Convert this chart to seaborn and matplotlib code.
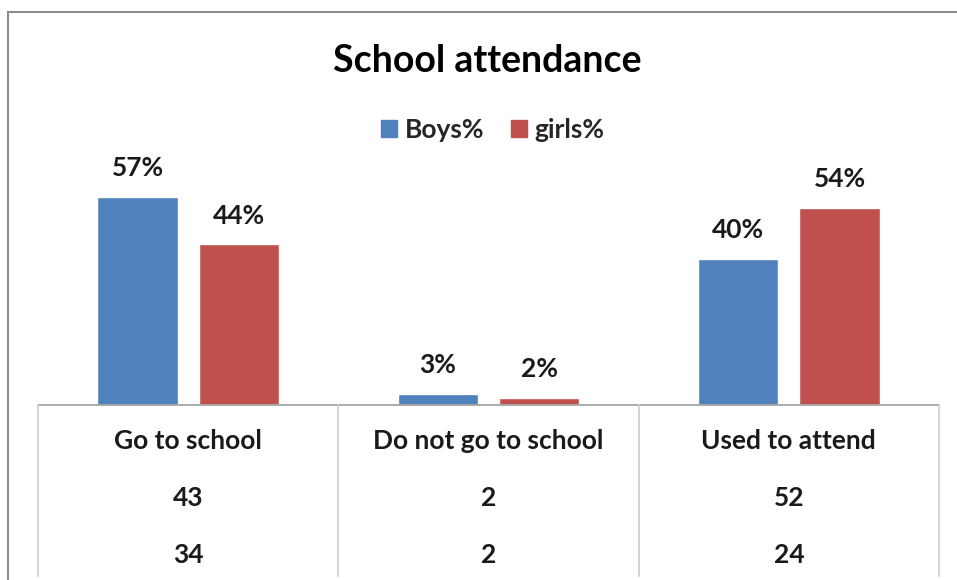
import pandas as pd
import matplotlib.pyplot as plt
import seaborn as sns
from matplotlib.patches import Rectangle
from matplotlib.lines import Line2D
import matplotlib.transforms as mtransforms

# 차트 데이터
categories = ["Go to school", "Do not go to school", "Used to attend"]
boys_pct = [57, 3, 40]
girls_pct = [44, 2, 54]
boys_count = [43, 2, 52]
girls_count = [34, 2, 24]
series_names = ["Boys%", "girls%"]

df = pd.DataFrame({
    "category": categories * 2,
    "value": boys_pct + girls_pct,
    "series": [series_names[0]] * 3 + [series_names[1]] * 3,
})

sns.set_style("white")
plt.rcParams['font.family'] = ['Lato', 'DejaVu Sans']

W, H = 957, 580
fig = plt.figure(figsize=(W / 100, H / 100), dpi=100)
ax = fig.add_axes([38 / W, 1 - 405 / H, (939 - 38) / W, (405 - 186) / H])

palette = {"Boys%": "#4F81BD", "girls%": "#C0504D"}
sns.barplot(data=df, x="category", y="value", hue="series", palette=palette,
            width=0.675, gap=0.21, ax=ax, legend=False, saturation=1)

for cont in ax.containers:
    ax.bar_label(cont, fmt="{:.0f}%", padding=12, fontsize=19,
                 fontweight="bold", color="#1a1a1a")

ax.set_xlim(-0.5, 2.5)
ax.set_ylim(0, 60)
ax.set_xlabel("")
ax.set_ylabel("")
ax.set_xticks([])
ax.set_yticks([])
for s in ax.spines.values():
    s.set_visible(False)

# 데이터 테이블 (축 아래)
trans = mtransforms.blended_transform_factory(ax.transData, fig.transFigure)
y0 = 1 - 405 / H
y_bot = 1 - 576 / H
ax.add_line(Line2D([-0.5, 2.5], [y0, y0], transform=trans, color="#a6a6a6",
                   lw=1.3, clip_on=False))
for xv in [-0.5, 0.5, 1.5, 2.5]:
    ax.add_line(Line2D([xv, xv], [y0, y_bot], transform=trans, color="#d0d0d0",
                       lw=1.3, clip_on=False))

row_y = [1 - 441 / H, 1 - 498 / H, 1 - 555 / H]
for i, cat in enumerate(categories):
    ax.text(i, row_y[0], cat, transform=trans, ha="center", va="center",
            fontsize=19, fontweight="bold", color="#1a1a1a", clip_on=False)
    ax.text(i, row_y[1], str(boys_count[i]), transform=trans, ha="center",
            va="center", fontsize=19, fontweight="bold", color="#1a1a1a", clip_on=False)
    ax.text(i, row_y[2], str(girls_count[i]), transform=trans, ha="center",
            va="center", fontsize=19, fontweight="bold", color="#1a1a1a", clip_on=False)

# 제목과 범례
fig.text(487 / W, 1 - 61 / H, "School attendance", ha="center", va="center",
         fontsize=27, fontweight="bold", color="#000000")
handles = [Rectangle((0, 0), 1, 1, color=palette[n]) for n in series_names]
leg = fig.legend(handles, series_names, loc="center", bbox_to_anchor=(493 / W, 1 - 130 / H),
                 ncol=2, frameon=False, prop={"family": ["Lato", "DejaVu Sans"],
                                              "weight": "bold", "size": 19},
                 handlelength=0.6, handleheight=0.6, handletextpad=0.3, columnspacing=1.0)

# 바깥 테두리
fig.patches.append(Rectangle((8 / W, -0.1), 1.2, 1 - 12 / H + 0.1, transform=fig.transFigure,
                             fill=False, edgecolor="#8c8c8c", lw=1.5))

fig.savefig("out.png", dpi=100, facecolor="white")
